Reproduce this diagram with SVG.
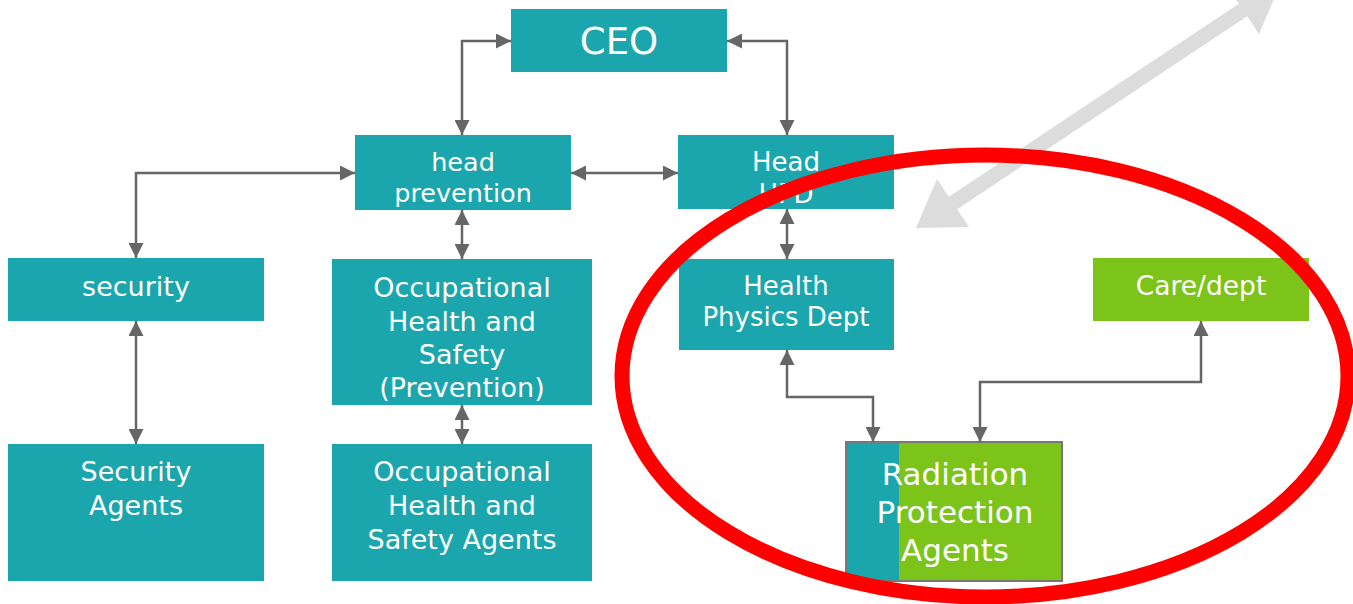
<svg xmlns="http://www.w3.org/2000/svg" width="1353" height="604" viewBox="0 0 1353 604">
<style>
.t{fill:#1BA6AD}
.g{fill:#7DC41A}
text{font-family:"DejaVu Sans","Verdana",sans-serif;fill:#fff;text-anchor:middle}
.c{fill:none;stroke:#666;stroke-width:2.5;marker-start:url(#ah);marker-end:url(#ah)}
</style>
<defs>
<marker id="ah" viewBox="0 0 10 10" refX="10" refY="5" markerWidth="15" markerHeight="15" markerUnits="userSpaceOnUse" orient="auto-start-reverse">
<path d="M0,0 L10,5 L0,10 Z" fill="#666"/>
</marker>
</defs>
<rect width="1353" height="604" fill="#fff"/>
<g id="ceo"><rect class="t" x="511" y="9" width="216" height="63"/><text x="619" y="54" font-size="37">CEO</text></g>
<g id="head-prevention"><rect class="t" x="355" y="135" width="216" height="75"/><text x="463" y="171" font-size="25.5">head</text><text x="463" y="202" font-size="25.5">prevention</text></g>
<g id="head-hpd"><rect class="t" x="678" y="135" width="216" height="74"/><text x="786" y="171" font-size="26">Head</text><text x="786" y="203" font-size="26">HPD</text></g>
<g id="security"><rect class="t" x="8" y="258" width="256" height="63"/><text x="136" y="296" font-size="27">security</text></g>
<g id="ohs-prevention"><rect class="t" x="332" y="259" width="260" height="146"/><text x="462" y="297" font-size="27">Occupational</text><text x="462" y="331" font-size="27">Health and</text><text x="462" y="364" font-size="27">Safety</text><text x="462" y="397" font-size="27">(Prevention)</text></g>
<g id="health-physics"><rect class="t" x="679" y="259" width="215" height="91"/><text x="786" y="295" font-size="26">Health</text><text x="786" y="326" font-size="26">Physics Dept</text></g>
<g id="care-dept"><rect class="g" x="1093" y="258" width="216" height="63"/><text x="1201" y="295" font-size="26.5">Care/dept</text></g>
<g id="security-agents"><rect class="t" x="8" y="444" width="256" height="137"/><text x="136" y="481" font-size="27">Security</text><text x="136" y="515" font-size="27">Agents</text></g>
<g id="ohs-agents"><rect class="t" x="332" y="444" width="260" height="137"/><text x="462" y="481" font-size="27">Occupational</text><text x="462" y="515" font-size="27">Health and</text><text x="462" y="549" font-size="27">Safety Agents</text></g>
<g id="radiation-agents"><rect class="t" x="846" y="442" width="54" height="139"/><rect class="g" x="899" y="442" width="163" height="139"/><rect x="846" y="442" width="216" height="139" fill="none" stroke="#777" stroke-width="2"/><text x="955" y="485" font-size="31">Radiation</text><text x="955" y="523" font-size="31">Protection</text><text x="955" y="561" font-size="31">Agents</text></g>
<g id="connectors">
<path class="c" d="M462,135 V41 H511"/>
<path class="c" d="M727,41 H787 V135"/>
<path class="c" d="M571,173 H678"/>
<path class="c" d="M355,173 H136 V258"/>
<path class="c" d="M462,210 V259"/>
<path class="c" d="M462,405 V444"/>
<path class="c" d="M136,321 V444"/>
<path class="c" d="M787,209 V259"/>
<path class="c" d="M787,350 V397 H873 V442"/>
<path class="c" d="M1201,321 V382 H980 V442"/>
</g>
<g id="gray-arrow" fill="#DCDCDC">
<line x1="950" y1="205" x2="1246" y2="8" stroke="#DCDCDC" stroke-width="15"/>
<polygon points="916,228 937,179 969,227"/>
<polygon points="1280,-15 1259,34 1227,-14"/>
</g>
<g id="red-ellipse"><ellipse cx="985" cy="376" rx="363" ry="221" fill="none" stroke="#FF0000" stroke-width="15"/></g>
</svg>
